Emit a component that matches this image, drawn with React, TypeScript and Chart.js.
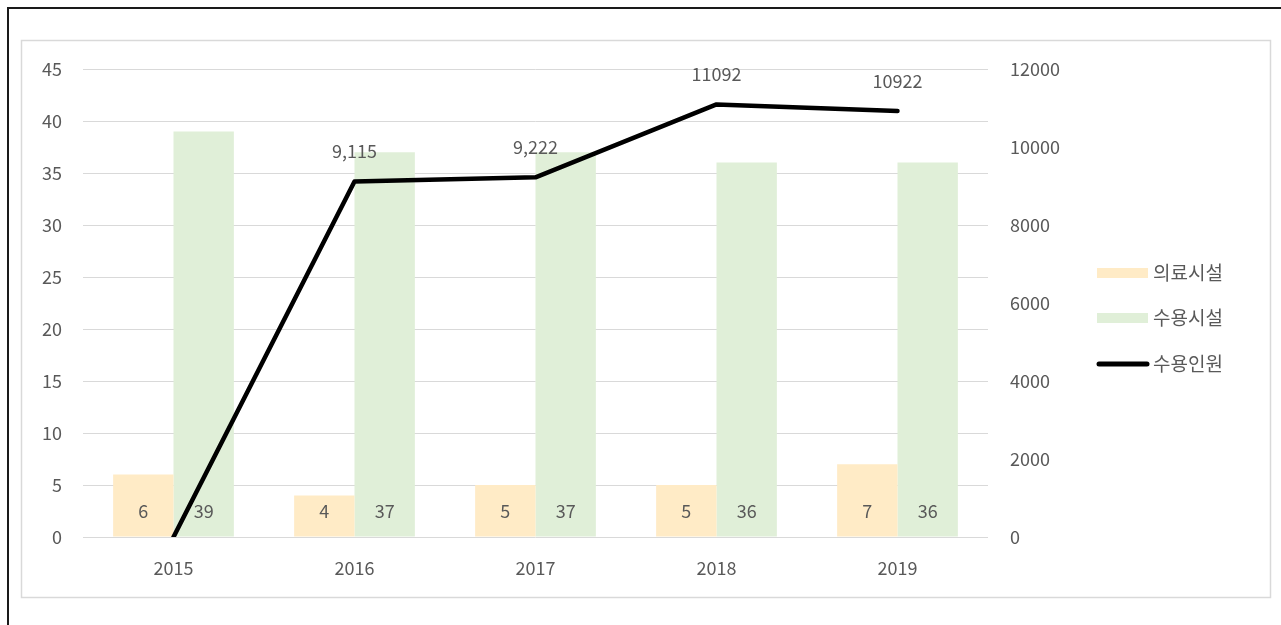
import React, { useEffect, useRef } from "react";
import { Chart, registerables } from "chart.js";

Chart.register(...registerables);

const years = ["2015", "2016", "2017", "2018", "2019"];
const medicalFacilities = [6, 4, 5, 5, 7];
const shelterFacilities = [39, 37, 37, 36, 36];
const capacity = [0, 9115, 9222, 11092, 10922];
const capacityLabels = ["", "9,115", "9,222", "11092", "10922"];
const seriesNames = ["의료시설", "수용시설", "수용인원"];
const seriesColors = ["#FFEBC6", "#E0EFD8", "#000000"];

const FONT = '"Noto Sans CJK KR", "Noto Sans", sans-serif';
const TEXT = "#595959";

const framePlugin = {
  id: "frames",
  beforeDraw(chart: any) {
    const ctx = chart.ctx;
    ctx.save();
    ctx.fillStyle = "#ffffff";
    ctx.fillRect(0, 0, chart.width, chart.height);
    ctx.strokeStyle = "#1a1a1a";
    ctx.lineWidth = 2;
    ctx.strokeRect(8, 8, chart.width + 20, chart.height + 20);
    ctx.strokeStyle = "#D9D9D9";
    ctx.lineWidth = 1.5;
    ctx.strokeRect(21.5, 40.5, 1249, 557);
    ctx.restore();
  },
};

const labelPlugin = {
  id: "valueLabels",
  afterDatasetsDraw(chart: any) {
    const ctx = chart.ctx;
    ctx.save();
    ctx.font = `18px ${FONT}`;
    ctx.fillStyle = TEXT;
    ctx.textAlign = "center";
    ctx.textBaseline = "middle";
    const base = chart.scales.y.getPixelForValue(0);
    [0, 1].forEach((di) => {
      const meta = chart.getDatasetMeta(di);
      const vals = chart.data.datasets[di].data;
      meta.data.forEach((el: any, i: number) => {
        ctx.fillText(String(vals[i]), el.x, base - 26);
      });
    });
    const lm = chart.getDatasetMeta(2);
    lm.data.forEach((el: any, i: number) => {
      const t = capacityLabels[i];
      if (t) ctx.fillText(t, el.x, el.y - 30);
    });
    ctx.restore();
  },
};

const legendPlugin = {
  id: "customLegend",
  afterDraw(chart: any) {
    const ctx = chart.ctx;
    ctx.save();
    const rows = [273, 318, 364];
    chart.data.datasets.forEach((ds: any, i: number) => {
      const y = rows[i];
      if (ds.type === "line") {
        ctx.strokeStyle = ds.borderColor;
        ctx.lineWidth = 5;
        ctx.lineCap = "round";
        ctx.beginPath();
        ctx.moveTo(1099, y);
        ctx.lineTo(1147, y);
        ctx.stroke();
      } else {
        ctx.fillStyle = ds.backgroundColor;
        ctx.fillRect(1097, y - 5, 51, 10);
      }
      ctx.font = `19px ${FONT}`;
      ctx.fillStyle = TEXT;
      ctx.textAlign = "left";
      ctx.textBaseline = "middle";
      ctx.fillText(ds.label, 1153, y);
    });
    ctx.restore();
  },
};

export default function App() {
  const ref = useRef<HTMLCanvasElement>(null);
  useEffect(() => {
    document.body.style.margin = "0";
    const chart = new Chart(ref.current as HTMLCanvasElement, {
      type: "bar",
      data: {
        labels: years,
        datasets: [
          {
            type: "bar",
            label: seriesNames[0],
            data: medicalFacilities,
            backgroundColor: seriesColors[0],
            yAxisID: "y",
            order: 2,
            categoryPercentage: 0.667,
            barPercentage: 1,
          },
          {
            type: "bar",
            label: seriesNames[1],
            data: shelterFacilities,
            backgroundColor: seriesColors[1],
            yAxisID: "y",
            order: 2,
            categoryPercentage: 0.667,
            barPercentage: 1,
          },
          {
            type: "line",
            label: seriesNames[2],
            data: capacity,
            borderColor: seriesColors[2],
            backgroundColor: seriesColors[2],
            borderWidth: 4.5,
            pointRadius: 0,
            tension: 0,
            yAxisID: "y1",
            order: 0,
            borderCapStyle: "round",
            borderJoinStyle: "round",
          } as any,
        ],
      },
      options: {
        responsive: false,
        animation: false,
        layout: { padding: { top: 69, left: 0, right: 0, bottom: 0 } },
        plugins: { legend: { display: false }, tooltip: { enabled: false } },
        scales: {
          x: {
            grid: { display: false, drawTicks: false },
            border: { display: false },
            ticks: { font: { family: FONT, size: 18 }, color: TEXT, padding: 20 },
            afterFit: (s: any) => { s.height = 88; },
          },
          y: {
            position: "left",
            min: 0,
            max: 45,
            ticks: { stepSize: 5, font: { family: FONT, size: 18 }, color: TEXT, padding: 21 },
            grid: { color: "#D9D9D9", drawTicks: false, lineWidth: 1 },
            border: { display: false },
            afterFit: (s: any) => { s.width = 83; },
          },
          y1: {
            position: "right",
            min: 0,
            max: 12000,
            ticks: {
              stepSize: 2000,
              font: { family: FONT, size: 18 },
              color: TEXT,
              padding: 22,
              callback: (v: any) => String(v),
            },
            grid: { display: false, drawTicks: false },
            border: { display: false },
            afterFit: (s: any) => { s.width = 293; },
          },
        },
      } as any,
      plugins: [framePlugin, labelPlugin, legendPlugin],
    });
    return () => chart.destroy();
  }, []);
  return <canvas ref={ref} width={1281} height={625} style={{ display: "block" }} />;
}
